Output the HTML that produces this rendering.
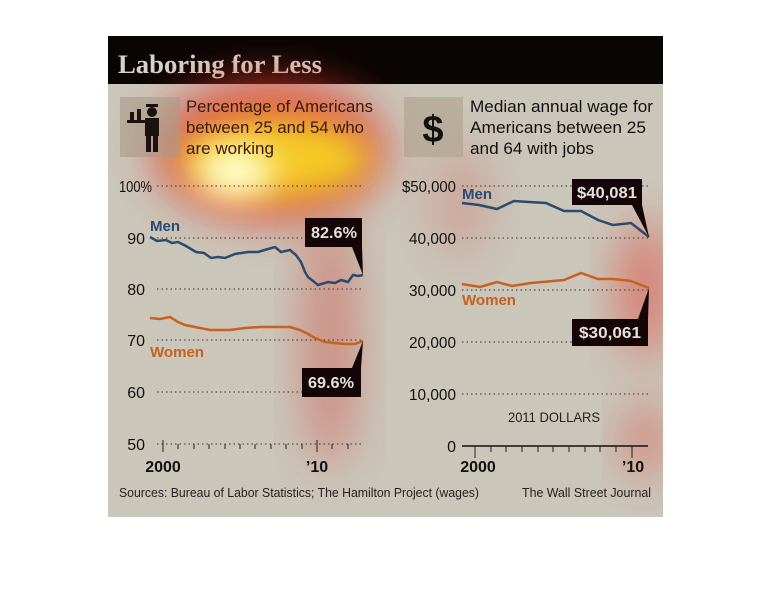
<!DOCTYPE html>
<html><head><meta charset="utf-8"><style>
html,body{margin:0;padding:0;background:#fff;}
svg{display:block;}
text{font-family:"Liberation Sans Narrow","Liberation Sans",sans-serif;}
</style></head><body>
<svg width="770" height="612" viewBox="0 0 770 612" xmlns="http://www.w3.org/2000/svg">
<defs>
<filter id="b1" x="-50%" y="-50%" width="200%" height="200%"><feGaussianBlur stdDeviation="22"/></filter>
<filter id="b2" x="-50%" y="-50%" width="200%" height="200%"><feGaussianBlur stdDeviation="16"/></filter>
<clipPath id="cp"><rect x="108" y="36" width="555" height="481"/></clipPath>
</defs>
<rect x="108" y="36" width="555" height="481" fill="#cbc6ba"/>
<rect x="108" y="36" width="555" height="48" fill="#0a0505"/>
<text x="118" y="73" font-weight="bold" font-size="26" fill="#d8d2c6" style="font-family:'Liberation Serif',serif" textLength="204" lengthAdjust="spacingAndGlyphs">Laboring for Less</text>

<g clip-path="url(#cp)">
<g opacity="0.8">
<ellipse cx="270" cy="150" rx="115" ry="70" fill="#e23a2a" filter="url(#b1)"/>
<ellipse cx="330" cy="340" rx="28" ry="130" fill="#d0463a" filter="url(#b1)" opacity="0.55"/>
<ellipse cx="645" cy="290" rx="28" ry="70" fill="#e0473a" filter="url(#b1)" opacity="0.7"/>
<ellipse cx="645" cy="440" rx="22" ry="40" fill="#e0473a" filter="url(#b1)" opacity="0.6"/>
<ellipse cx="460" cy="200" rx="30" ry="60" fill="#d0463a" filter="url(#b1)" opacity="0.3"/>
</g>
<ellipse cx="275" cy="158" rx="95" ry="40" fill="#f5d020" filter="url(#b2)" opacity="0.95"/>
<ellipse cx="235" cy="172" rx="38" ry="26" fill="#ffffd0" filter="url(#b2)"/>
</g>

<rect x="120" y="97" width="60" height="60" fill="#a89a86" opacity="0.6"/>
<g fill="#1a1111">
<circle cx="152" cy="112" r="5"/><rect x="146" y="104" width="12" height="3"/>
<rect x="145" y="118" width="14" height="18"/><rect x="146" y="134" width="5" height="18"/><rect x="153" y="134" width="5" height="18"/>
<rect x="127" y="120" width="20" height="3"/><rect x="130" y="112" width="4" height="8"/><rect x="137" y="109" width="4" height="11"/>
</g>
<g font-size="17" fill="#3a1a10">
<text x="186" y="112" textLength="187" lengthAdjust="spacingAndGlyphs">Percentage of Americans</text>
<text x="186" y="133" textLength="178" lengthAdjust="spacingAndGlyphs">between 25 and 54 who</text>
<text x="186" y="154" textLength="88" lengthAdjust="spacingAndGlyphs">are working</text>
</g>

<rect x="404" y="97" width="59" height="60" fill="#b0a590" opacity="0.7"/>
<text x="433" y="142" font-size="38" font-weight="bold" text-anchor="middle" fill="#111">$</text>
<g font-size="17" fill="#111">
<text x="470" y="112" textLength="183" lengthAdjust="spacingAndGlyphs">Median annual wage for</text>
<text x="470" y="133" textLength="176" lengthAdjust="spacingAndGlyphs">Americans between 25</text>
<text x="470" y="154" textLength="124" lengthAdjust="spacingAndGlyphs">and 64 with jobs</text>
</g>

<g stroke="#333" stroke-width="1" stroke-dasharray="1.5,3">
<line x1="157" y1="186" x2="362" y2="186"/><line x1="157" y1="238" x2="362" y2="238"/>
<line x1="157" y1="289" x2="362" y2="289"/><line x1="157" y1="340" x2="362" y2="340"/>
<line x1="157" y1="392" x2="362" y2="392"/><line x1="157" y1="444" x2="362" y2="444"/>
</g>
<g font-size="16" fill="#111" text-anchor="end">
<text x="152" y="192" textLength="33" lengthAdjust="spacingAndGlyphs">100%</text><text x="145" y="244">90</text><text x="145" y="295">80</text>
<text x="145" y="346">70</text><text x="145" y="398">60</text><text x="145" y="450">50</text>
</g>
<g stroke="#222" stroke-width="1">
<line x1="163" y1="440" x2="163" y2="452"/><line x1="317" y1="440" x2="317" y2="452"/>
<line x1="178" y1="444" x2="178" y2="449"/><line x1="194" y1="444" x2="194" y2="449"/><line x1="209" y1="444" x2="209" y2="449"/><line x1="225" y1="444" x2="225" y2="449"/><line x1="240" y1="444" x2="240" y2="449"/><line x1="255" y1="444" x2="255" y2="449"/><line x1="271" y1="444" x2="271" y2="449"/><line x1="286" y1="444" x2="286" y2="449"/><line x1="302" y1="444" x2="302" y2="449"/><line x1="332" y1="444" x2="332" y2="449"/><line x1="348" y1="444" x2="348" y2="449"/>
</g>
<text x="163" y="472" font-size="16" font-weight="bold" text-anchor="middle" fill="#111">2000</text>
<text x="317" y="472" font-size="16" font-weight="bold" text-anchor="middle" fill="#111">’10</text>

<polyline fill="none" stroke="#2a4a70" stroke-width="2.5" points="150,237 157,241 166,240 172,243 178,242 186,246 196,252 204,253 211,258 218,257 225,258 235,254 248,252 258,252 268,249 275,247 281,252 290,250 296,255 301,262 305,272 308,277 318,285 328,282 335,283 341,280 348,282 353,275 358,276 363,275"/>
<polyline fill="none" stroke="#c8601e" stroke-width="2.5" points="150,318 160,319 170,317 178,322 185,325 200,328 210,330 230,330 245,328 260,327 275,327 290,327 300,330 308,334 315,338 325,342 335,343 345,344 355,344 363,341"/>
<text x="150" y="231" font-size="15" font-weight="bold" fill="#2a4a70">Men</text>
<text x="150" y="357" font-size="15" font-weight="bold" fill="#c8601e" textLength="54" lengthAdjust="spacingAndGlyphs">Women</text>

<rect x="305" y="218" width="57" height="29" fill="#140606"/>
<polygon points="352,247 362,247 363,275" fill="#140606"/>
<text x="334" y="238" font-size="16" font-weight="bold" fill="#e8e0dc" text-anchor="middle" textLength="46" lengthAdjust="spacingAndGlyphs">82.6%</text>
<rect x="302" y="368" width="59" height="29" fill="#140606"/>
<polygon points="352,368 361,368 363,341" fill="#140606"/>
<text x="331" y="388" font-size="16" font-weight="bold" fill="#e8e0dc" text-anchor="middle" textLength="46" lengthAdjust="spacingAndGlyphs">69.6%</text>

<g stroke="#333" stroke-width="1" stroke-dasharray="1.5,3">
<line x1="462" y1="186" x2="648" y2="186"/><line x1="462" y1="238" x2="648" y2="238"/>
<line x1="462" y1="290" x2="648" y2="290"/><line x1="462" y1="342" x2="648" y2="342"/>
<line x1="462" y1="394" x2="648" y2="394"/>
</g>
<line x1="462" y1="446" x2="648" y2="446" stroke="#111" stroke-width="1.5"/>
<g font-size="16" fill="#111" text-anchor="end">
<text x="456" y="192" textLength="54" lengthAdjust="spacingAndGlyphs">$50,000</text><text x="456" y="244" textLength="47" lengthAdjust="spacingAndGlyphs">40,000</text><text x="456" y="296" textLength="47" lengthAdjust="spacingAndGlyphs">30,000</text>
<text x="456" y="348" textLength="47" lengthAdjust="spacingAndGlyphs">20,000</text><text x="456" y="400" textLength="47" lengthAdjust="spacingAndGlyphs">10,000</text><text x="456" y="452">0</text>
</g>
<g stroke="#222" stroke-width="1">
<line x1="475" y1="446" x2="475" y2="458"/><line x1="632" y1="446" x2="632" y2="458"/>
<line x1="491" y1="446" x2="491" y2="452"/><line x1="506" y1="446" x2="506" y2="452"/><line x1="522" y1="446" x2="522" y2="452"/><line x1="538" y1="446" x2="538" y2="452"/><line x1="553" y1="446" x2="553" y2="452"/><line x1="569" y1="446" x2="569" y2="452"/><line x1="585" y1="446" x2="585" y2="452"/><line x1="600" y1="446" x2="600" y2="452"/><line x1="616" y1="446" x2="616" y2="452"/>
</g>
<text x="478" y="472" font-size="16" font-weight="bold" text-anchor="middle" fill="#111">2000</text>
<text x="633" y="472" font-size="16" font-weight="bold" text-anchor="middle" fill="#111">’10</text>
<text x="554" y="422" font-size="14" text-anchor="middle" fill="#222" textLength="92" lengthAdjust="spacingAndGlyphs">2011 DOLLARS</text>

<polyline fill="none" stroke="#2a4a70" stroke-width="2.5" points="462,203 479,205 497,209 514,201 529,202 546,203 564,211 581,211 598,220 613,225 631,223 649,237"/>
<polyline fill="none" stroke="#c8601e" stroke-width="2.5" points="462,284 480,287 497,282 512,286 531,283 564,280 581,273 598,279 613,279 631,281 649,288"/>
<text x="462" y="199" font-size="15" font-weight="bold" fill="#2a4a70">Men</text>
<text x="462" y="305" font-size="15" font-weight="bold" fill="#c8601e" textLength="54" lengthAdjust="spacingAndGlyphs">Women</text>

<rect x="572" y="179" width="70" height="26" fill="#140606"/>
<polygon points="632,205 642,205 649,237" fill="#140606"/>
<text x="607" y="198" font-size="16" font-weight="bold" fill="#e8e0dc" text-anchor="middle" textLength="60" lengthAdjust="spacingAndGlyphs">$40,081</text>
<rect x="572" y="319" width="76" height="27" fill="#140606"/>
<polygon points="638,319 648,319 649,288" fill="#140606"/>
<text x="610" y="338" font-size="16" font-weight="bold" fill="#e8e0dc" text-anchor="middle" textLength="62" lengthAdjust="spacingAndGlyphs">$30,061</text>

<text x="119" y="497" font-size="13" fill="#222" textLength="360" lengthAdjust="spacingAndGlyphs">Sources: Bureau of Labor Statistics; The Hamilton Project (wages)</text>
<text x="522" y="497" font-size="13" fill="#222" textLength="129" lengthAdjust="spacingAndGlyphs">The Wall Street Journal</text>
</svg>
</body></html>
